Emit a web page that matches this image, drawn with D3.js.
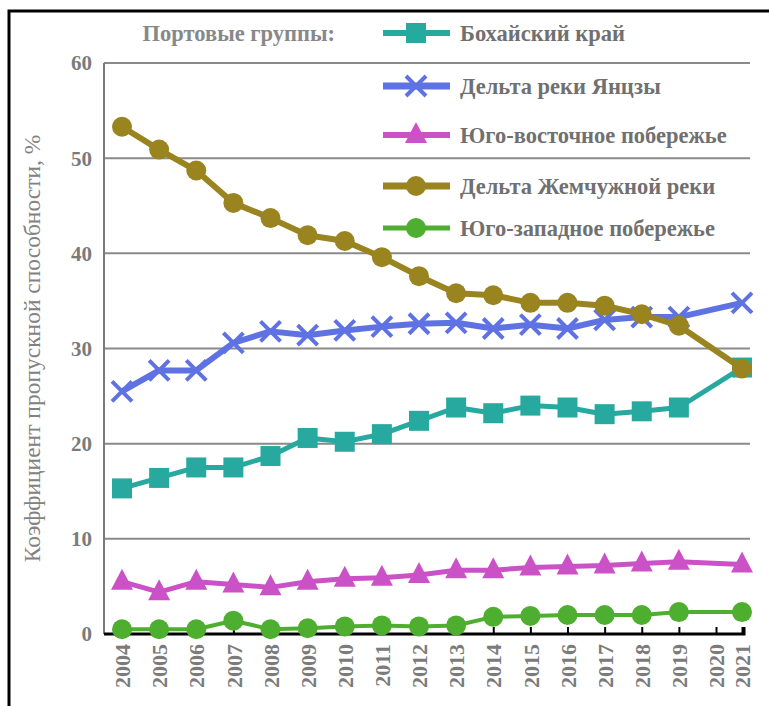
<!DOCTYPE html>
<html>
<head>
<meta charset="utf-8">
<script src="https://cdn.jsdelivr.net/npm/d3@7"></script>
<style>
    body { margin: 0; background: #fff; }
    text { font-family: "Liberation Serif", "DejaVu Serif", serif; }
</style>
</head>
<body>
<svg id="viewBox" width="769" height="706"></svg>
<script>
'use strict'

const years = [2004, 2005, 2006, 2007, 2008, 2009, 2010, 2011, 2012, 2013, 2014, 2015, 2016, 2017, 2018, 2019, 2020, 2021]
// no observation for 2020, the lines go straight from 2019 to 2021
const bohai = [15.3, 16.4, 17.5, 17.5, 18.7, 20.6, 20.2, 21.0, 22.4, 23.8, 23.2, 24.0, 23.8, 23.1, 23.4, 23.8, null, 28.0]
const yangtze = [25.5, 27.7, 27.7, 30.6, 31.8, 31.4, 31.9, 32.3, 32.6, 32.7, 32.1, 32.5, 32.1, 33.0, 33.3, 33.3, null, 34.8]
const southeast = [5.5, 4.4, 5.5, 5.2, 4.9, 5.5, 5.8, 5.9, 6.2, 6.7, 6.7, 7.0, 7.1, 7.2, 7.4, 7.6, null, 7.3]
const pearl = [53.3, 50.9, 48.7, 45.3, 43.7, 41.9, 41.3, 39.6, 37.6, 35.8, 35.6, 34.8, 34.8, 34.5, 33.6, 32.4, null, 27.9]
const southwest = [0.5, 0.5, 0.5, 1.4, 0.5, 0.6, 0.8, 0.9, 0.8, 0.9, 1.8, 1.9, 2.0, 2.0, 2.0, 2.3, null, 2.3]
const yTicks = [0, 10, 20, 30, 40, 50, 60]

const seriesNames = ['Бохайский край', 'Дельта реки Янцзы', 'Юго-восточное побережье', 'Дельта Жемчужной реки', 'Юго-западное побережье']
const legendTitle = 'Портовые группы:'
const yTitle = 'Коэффициент пропускной способности, %'

const series = [
    { name: seriesNames[0], values: bohai, color: '#27a9a0', symbol: 'square', width: 5 },
    { name: seriesNames[1], values: yangtze, color: '#5f72e4', symbol: 'cross', width: 6 },
    { name: seriesNames[2], values: southeast, color: '#cb52c6', symbol: 'triangle', width: 5 },
    { name: seriesNames[3], values: pearl, color: '#9a8420', symbol: 'circle', width: 6 },
    { name: seriesNames[4], values: southwest, color: '#4eae2f', symbol: 'circle', width: 4 },
]

const drawMarker = (g, kind, color) => {
    if (kind === 'square') {
        g.append('rect')
            .attr('x', -10).attr('y', -10)
            .attr('width', 20).attr('height', 20)
            .attr('fill', color)
    } else if (kind === 'triangle') {
        g.append('path')
            .attr('d', 'M0,-13 L11,8 L-11,8 Z')
            .attr('fill', color)
    } else if (kind === 'cross') {
        g.append('path')
            .attr('d', 'M-10,-10 L10,10 M-10,10 L10,-10')
            .attr('stroke', color)
            .attr('stroke-width', 4)
    } else {
        g.append('circle')
            .attr('r', 10)
            .attr('fill', color)
    }
}

const draw_chart = () => {
    const svg = d3.select('#viewBox')

    // the frame round the picture
    svg.append('path')
        .attr('d', 'M9,720 V11 H780')
        .attr('fill', 'none')
        .attr('stroke', '#000')
        .attr('stroke-width', 3)

    const left = 104
    const right = 750
    // the 2021 column sits closer to 2020 than the others
    const x = d3.scaleLinear()
        .domain([2004, 2020, 2021])
        .range([122, 716, 742])
    const y = d3.scaleLinear()
        .domain([0, 60])
        .range([634, 63])

    // grid
    svg.append('g')
        .selectAll('line')
        .data(yTicks.filter(d => d > 0))
        .join('line')
        .attr('x1', left)
        .attr('x2', right)
        .attr('y1', d => y(d))
        .attr('y2', d => y(d))
        .attr('stroke', '#8a8a8a')
        .attr('stroke-width', 2)

    // left axis
    svg.append('line')
        .attr('x1', left).attr('x2', left)
        .attr('y1', y(60)).attr('y2', y(0))
        .attr('stroke', '#7a7a7a')
        .attr('stroke-width', 2)

    svg.append('g')
        .selectAll('text')
        .data(yTicks)
        .join('text')
        .attr('x', 92)
        .attr('y', d => y(d))
        .attr('dy', '0.35em')
        .attr('text-anchor', 'end')
        .attr('font-size', 21)
        .attr('font-weight', 'bold')
        .attr('fill', '#7b7b7b')
        .text(d => d)

    svg.append('text')
        .attr('transform', `translate(40,${(y(0) + y(60)) / 2}) rotate(-90)`)
        .attr('text-anchor', 'middle')
        .attr('font-size', 23.5)
        .attr('fill', '#828282')
        .text(yTitle)

    // bottom axis
    const xAxis = d3.axisBottom(x)
        .tickValues(years)
        .tickSize(-7)
        .tickFormat(d3.format('d'))
    const gx = svg.append('g')
        .attr('transform', `translate(0,${y(0)})`)
        .call(xAxis)
    gx.select('.domain')
        .attr('d', `M${left},0 H${x(2021) + 2} V-7`)
        .attr('stroke', '#000')
        .attr('stroke-width', 3)
    gx.selectAll('.tick line')
        .attr('stroke', '#000')
        .attr('stroke-width', 2)
    gx.selectAll('.tick text')
        .attr('transform', 'rotate(-90)')
        .attr('x', -10)
        .attr('y', 0)
        .attr('dy', '0.35em')
        .attr('text-anchor', 'end')
        .attr('font-family', '"Liberation Serif", serif')
        .attr('font-size', 22)
        .attr('font-weight', 'bold')
        .attr('fill', '#7b7b7b')

    // lines and markers
    const line = d3.line()
        .x(d => x(d.year))
        .y(d => y(d.value))

    series.forEach(s => {
        const pts = years
            .map((yr, i) => ({ year: yr, value: s.values[i] }))
            .filter(d => d.value !== null)
        const g = svg.append('g')
        g.append('path')
            .datum(pts)
            .attr('d', line)
            .attr('fill', 'none')
            .attr('stroke', s.color)
            .attr('stroke-width', s.width)
            .attr('stroke-linejoin', 'round')
        g.selectAll('g.pt')
            .data(pts)
            .join('g')
            .attr('class', 'pt')
            .attr('transform', d => `translate(${x(d.year)},${y(d.value)})`)
            .each(function () { drawMarker(d3.select(this), s.symbol, s.color) })
    })

    // legend
    const legendRows = [33, 86, 135, 186, 228]
    svg.append('text')
        .attr('x', 335)
        .attr('y', legendRows[0])
        .attr('dy', '0.35em')
        .attr('text-anchor', 'end')
        .attr('font-size', 22.5)
        .attr('font-weight', 'bold')
        .attr('fill', '#888')
        .text(legendTitle)

    const legend = svg.append('g')
        .selectAll('g')
        .data(series)
        .join('g')
        .attr('transform', (d, i) => `translate(0,${legendRows[i]})`)
    legend.append('line')
        .attr('x1', 383)
        .attr('x2', 450)
        .attr('stroke', d => d.color)
        .attr('stroke-width', d => d.width + 1)
    legend.each(function (d) {
        drawMarker(d3.select(this).append('g').attr('transform', 'translate(416,0)'), d.symbol, d.color)
    })
    legend.append('text')
        .attr('x', 460)
        .attr('dy', '0.35em')
        .attr('font-size', 22.5)
        .attr('font-weight', 'bold')
        .attr('fill', '#707070')
        .text(d => d.name)
}

draw_chart()
</script>
</body>
</html>
